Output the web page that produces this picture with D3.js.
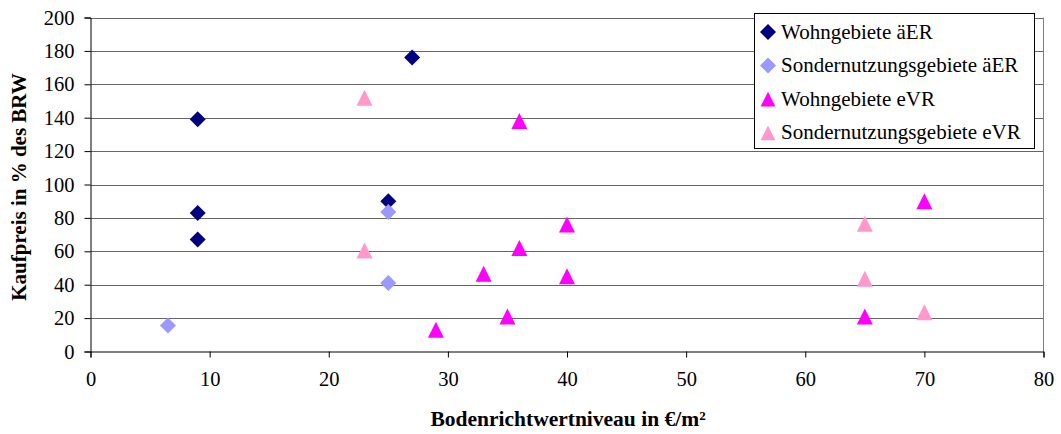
<!DOCTYPE html>
<html>
<head>
<meta charset="utf-8">
<script src="https://cdn.jsdelivr.net/npm/d3@7"></script>
<style>
  html, body { margin: 0; padding: 0; background: #fff; }
  svg { display: block; }
</style>
</head>
<body>
<svg id="chart" width="1061" height="434"></svg>
<script>
// ---- data ----
const seriesNames = ["Wohngebiete äER", "Sondernutzungsgebiete äER", "Wohngebiete eVR", "Sondernutzungsgebiete eVR"];
const wohnAER = [[9, 139], [9, 83], [9, 67], [25, 90], [27, 176]];
const sonderAER = [[6.5, 15.5], [25, 83.5], [25, 41]];
const wohnEVR = [[36, 138], [40, 76], [36, 62], [33, 46.5], [40, 45], [35, 21], [29, 13], [70, 90], [65, 21]];
const sonderEVR = [[23, 152], [23, 60.5], [65, 76.5], [65, 43.5], [70, 23.5]];
const xTicks = [0, 10, 20, 30, 40, 50, 60, 70, 80];
const yTicks = [0, 20, 40, 60, 80, 100, 120, 140, 160, 180, 200];
const xTitle = "Bodenrichtwertniveau in €/m²";
const yTitle = "Kaufpreis in % des BRW";

const FONT = "'Liberation Serif', 'Times New Roman', serif";

// ---- layout ----
const svg = d3.select("#chart");
const x = d3.scaleLinear().domain([0, 80]).range([90.5, 1043.5]);
const y = d3.scaleLinear().domain([0, 200]).range([351.5, 17.5]);

const colors = ["#000080", "#9999FF", "#FF00FF", "#FF99CC"];
const diamond = "M0,-8L8,0L0,8L-8,0Z";
const triangle = "M0,-8L8,8L-8,8Z";
const shapes = [diamond, diamond, triangle, triangle];
const legendScale = [1, 1, 0.92, 0.92];
const allSeries = [wohnAER, sonderAER, wohnEVR, sonderEVR];

// gridlines
svg.append("g").selectAll("line").data(yTicks.filter(d => d > 0)).join("line")
  .attr("x1", x(0)).attr("x2", x(80))
  .attr("y1", d => Math.round(y(d)) + 0.5).attr("y2", d => Math.round(y(d)) + 0.5)
  .attr("stroke", "#666").attr("stroke-width", 1);

// right border of plot area
svg.append("line")
  .attr("x1", x(80)).attr("x2", x(80)).attr("y1", y(200)).attr("y2", y(0))
  .attr("stroke", "#808080").attr("stroke-width", 1);

// axes
const xAxis = d3.axisBottom(x).tickValues(xTicks).tickSize(6).tickPadding(14).tickFormat(d3.format("d"));
const gx = svg.append("g").attr("transform", `translate(0,${y(0)})`).call(xAxis);
gx.select(".domain").attr("stroke", "#000");
gx.selectAll(".tick line").attr("stroke", "#000");
gx.selectAll("text").style("font-size", "20.5px").style("font-family", FONT).attr("fill", "#000");

const yAxis = d3.axisLeft(y).tickValues(yTicks).tickSize(6).tickPadding(10).tickFormat(d3.format("d"));
const gy = svg.append("g").attr("transform", `translate(${x(0)},0)`).call(yAxis);
gy.select(".domain").attr("stroke", "#000");
gy.selectAll(".tick line").attr("stroke", "#000");
gy.selectAll("text").style("font-size", "20.5px").style("font-family", FONT).attr("fill", "#000");

// markers
allSeries.forEach((data, i) => {
  svg.append("g").selectAll("path").data(data).join("path")
    .attr("d", shapes[i])
    .attr("transform", d => `translate(${x(d[0])},${y(d[1])})`)
    .attr("fill", colors[i]);
});

// axis titles
svg.append("text")
  .attr("x", 568).attr("y", 426)
  .attr("text-anchor", "middle")
  .style("font-family", FONT)
  .style("font-size", "21.5px").style("font-weight", "bold")
  .text(xTitle);

svg.append("text")
  .attr("transform", `translate(26,187) rotate(-90)`)
  .attr("text-anchor", "middle")
  .style("font-family", FONT)
  .style("font-size", "21px").style("font-weight", "bold")
  .text(yTitle);

// legend
const lg = svg.append("g");
lg.append("rect").attr("x", 754.5).attr("y", 13.5).attr("width", 280).attr("height", 135)
  .attr("fill", "#fff").attr("stroke", "#000").attr("stroke-width", 1);
seriesNames.forEach((name, i) => {
  const cy = 32 + i * 33.6;
  lg.append("path").attr("d", shapes[i])
    .attr("transform", `translate(768,${cy}) scale(${legendScale[i]})`)
    .attr("fill", colors[i]);
  lg.append("text").attr("x", 781).attr("y", cy + 6.5)
    .style("font-family", FONT)
    .style("font-size", "21px").text(name);
});
</script>
</body>
</html>
